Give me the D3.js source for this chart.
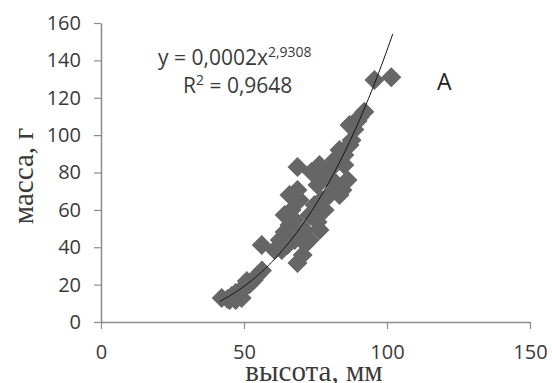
<!DOCTYPE html>
<html>
<head>
<meta charset="utf-8">
<script src="https://cdn.jsdelivr.net/npm/d3@7"></script>
<style>
  html, body { margin: 0; padding: 0; background: #fff; }
  svg { display: block; }
</style>
</head>
<body>
<div id="chart"></div>
<script>
// высота, мм
const heights = [42.2, 44.3, 45.7, 47.1, 48.5, 50.2, 52.0, 53.4, 54.8, 47.1, 49.2, 45.0,
  56.2, 60.7, 62.5, 64.2, 65.9, 66.6, 65.9, 68.7, 69.4, 67.7, 68.7, 70.5, 71.5, 71.2,
  72.9, 74.7, 76.4, 78.2, 79.9, 81.0, 68.7, 73.6, 75.7, 78.2, 81.6, 83.4, 85.1, 86.2,
  87.6, 88.6, 90.4, 92.1, 86.9, 86.9, 85.1, 81.6, 84.4, 95.6, 101.5, 89.7,
  63.2, 65.2, 64.2, 67.7, 69.4, 72.9, 75.7, 77.1, 83.4, 79.9, 76.4, 56.3, 51.0];
// масса, г
const masses = [12.8, 12.3, 13.9, 15.5, 16.6, 18.2, 20.3, 22.5, 25.1, 11.8, 12.8, 11.8,
  41.2, 38.5, 43.9, 48.2, 51.9, 59.9, 67.9, 70.6, 65.3, 43.9, 31.6, 35.8, 41.7, 49.2,
  57.2, 62.6, 49.2, 59.9, 67.9, 76.0, 82.9, 80.3, 73.3, 78.7, 86.7, 92.0, 84.0, 76.0,
  97.3, 103.0, 109.5, 112.5, 105.4, 94.7, 89.3, 73.3, 70.6, 129.5, 131.0, 107.5,
  38.5, 41.2, 57.2, 54.6, 46.5, 43.9, 53.5, 65.3, 67.9, 81.3, 84.0, 27.5, 22.0];

const xTicks = [0, 50, 100, 150];
const yTicks = [0, 20, 40, 60, 80, 100, 120, 140, 160];

// степенная линия тренда y = a·x^b
const trendA = 0.0002;
const trendB = 2.9308;
const trendFrom = 41.5;
const trendTo = 102;

const width = 552, height = 383;

const svg = d3.select("#chart").append("svg")
  .attr("width", width)
  .attr("height", height);

const x = d3.scaleLinear().domain([0, 150]).range([101, 530]);
const y = d3.scaleLinear().domain([0, 160]).range([322, 23]);

const axisColor = "#8c8c8c";
const textColor = "#3a3a3a";
const sans = "'Open Sans', sans-serif";
const serif = "'Liberation Serif', 'Times New Roman', serif";

const gx = svg.append("g")
  .attr("transform", `translate(0,${y(0)})`)
  .call(d3.axisBottom(x).tickValues(xTicks).tickSize(7).tickSizeOuter(0).tickPadding(16));
const gy = svg.append("g")
  .attr("transform", `translate(${x(0)},0)`)
  .call(d3.axisLeft(y).tickValues(yTicks).tickSize(7).tickSizeOuter(0).tickPadding(13));

[gx, gy].forEach(g => {
  g.select(".domain").attr("stroke", axisColor).attr("stroke-width", 1.5);
  g.selectAll(".tick line").attr("stroke", axisColor).attr("stroke-width", 1.2);
  g.selectAll(".tick text")
    .attr("fill", textColor)
    .attr("font-family", sans)
    .attr("font-size", 20);
});

// точки
const pts = heights.map((h, i) => [h, masses[i]]);
svg.append("g")
  .selectAll("path")
  .data(pts)
  .join("path")
  .attr("d", d3.symbol(d3.symbolSquare, 200))
  .attr("transform", d => `translate(${x(d[0])},${y(d[1])}) rotate(45)`)
  .attr("fill", "#666666");

// тренд
const line = d3.line().x(d => x(d)).y(d => y(trendA * Math.pow(d, trendB)));
const trendXs = d3.range(trendFrom, trendTo, 0.5).concat([trendTo]);
svg.append("path")
  .datum(trendXs)
  .attr("d", line)
  .attr("fill", "none")
  .attr("stroke", "#111")
  .attr("stroke-width", 1);

// уравнение
const eq = svg.append("text")
  .attr("x", 158).attr("y", 65)
  .attr("font-family", sans).attr("font-size", 21).attr("fill", textColor);
eq.append("tspan").text("y = 0,0002x");
eq.append("tspan").attr("dy", -8).attr("font-size", 14).text("2,9308");

const r2 = svg.append("text")
  .attr("x", 183).attr("y", 93)
  .attr("font-family", sans).attr("font-size", 21).attr("fill", textColor);
r2.append("tspan").text("R");
r2.append("tspan").attr("dy", -8).attr("font-size", 14).text("2");
r2.append("tspan").attr("dy", 8).text(" = 0,9648");

svg.append("text")
  .attr("x", 437).attr("y", 90)
  .attr("font-family", sans).attr("font-size", 23).attr("fill", "#222")
  .text("A");

// подписи осей
svg.append("text")
  .attr("x", 314).attr("y", 381)
  .attr("text-anchor", "middle")
  .attr("font-family", serif).attr("font-size", 29).attr("fill", textColor)
  .text("высота, мм");

svg.append("text")
  .attr("transform", "translate(33,176) rotate(-90)")
  .attr("text-anchor", "middle")
  .attr("font-family", serif).attr("font-size", 29).attr("fill", textColor)
  .text("масса, г");
</script>
</body>
</html>
